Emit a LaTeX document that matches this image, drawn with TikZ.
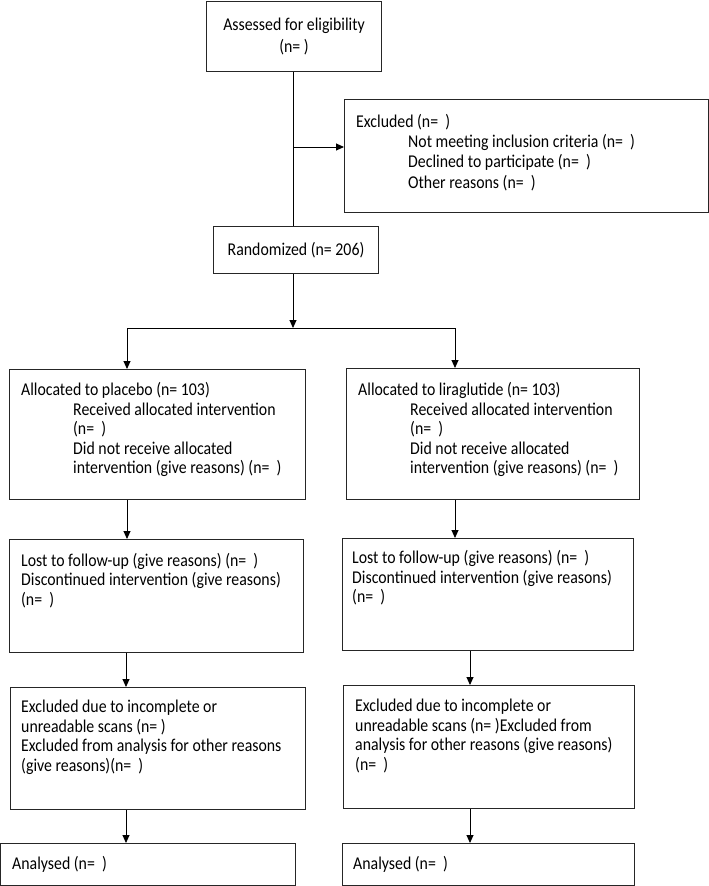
\documentclass[tikz,border=0pt]{standalone}
\usepackage{fontspec}
\setmainfont{Carlito}[FakeStretch=0.88]
\usetikzlibrary{arrows.meta}
\tikzset{
  box/.style={draw=black!85, line width=1.1pt, inner sep=0pt, anchor=north west},
  txt/.style={inner sep=0pt, align=left, anchor=west, font=\fontsize{18}{19.5}\selectfont},
  arr/.style={draw=black, line width=0.9pt, -{Triangle[length=8pt,width=7pt]}},
  ln/.style={draw=black, line width=0.9pt}
}
\newcommand{\ind}{\hspace*{52pt}}
\begin{document}
\begin{tikzpicture}[x=1pt,y=-1pt]
\useasboundingbox (0,0) rectangle (709,886);
% boxes
\node[box, minimum width=175pt, minimum height=70pt, align=center, font=\fontsize{18}{22}\selectfont] (assess) at (206,1) {Assessed for eligibility\\(n= )};
\node[box, minimum width=364pt, minimum height=113pt] (excl) at (344,99) {};
\node[box, minimum width=165pt, minimum height=47pt, font=\fontsize{18}{19.5}\selectfont] (rand) at (213,226) {Randomized (n= 206)};
\node[box, minimum width=296pt, minimum height=130pt] (plac) at (9,369) {};
\node[box, minimum width=293pt, minimum height=131pt] (lira) at (346,368) {};
\node[box, minimum width=294pt, minimum height=113pt] (lostL) at (9,539) {};
\node[box, minimum width=291pt, minimum height=112pt] (lostR) at (342,538) {};
\node[box, minimum width=295pt, minimum height=122pt] (exclL) at (10,687) {};
\node[box, minimum width=291pt, minimum height=123pt] (exclR) at (343,685) {};
\node[box, minimum width=295pt, minimum height=42pt] (anaL) at (0,843) {};
\node[box, minimum width=292pt, minimum height=42pt] (anaR) at (342,843) {};
% texts
\node[txt, font=\fontsize{18}{20.3}\selectfont] (exclT) at (356,152.5) {Excluded (n=\ \ )\\\ind Not meeting inclusion criteria (n=\ \ )\\\ind Declined to participate (n=\ \ )\\\ind Other reasons (n=\ \ )};
\node[txt] (placT) at (21,429.5) {Allocated to placebo (n= 103)\\\ind Received allocated intervention\\\ind (n=\ \ )\\\ind Did not receive allocated\\\ind intervention (give reasons) (n=\ \ )};
\node[txt] (liraT) at (358,429.5) {Allocated to liraglutide (n= 103)\\\ind Received allocated intervention\\\ind (n=\ \ )\\\ind Did not receive allocated\\\ind intervention (give reasons) (n=\ \ )};
\node[txt] (lostLT) at (21,580.5) {Lost to follow-up (give reasons) (n=\ \ )\\Discontinued intervention (give reasons)\\(n=\ \ )};
\node[txt] (lostRT) at (352,578) {Lost to follow-up (give reasons) (n=\ \ )\\Discontinued intervention (give reasons)\\(n=\ \ )};
\node[txt] (exclLT) at (21,737.5) {Excluded due to incomplete or\\unreadable scans (n= )\\Excluded from analysis for other reasons\\(give reasons)(n=\ \ )};
\node[txt] (exclRT) at (355,736) {Excluded due to incomplete or\\unreadable scans (n= )Excluded from\\analysis for other reasons (give reasons)\\(n=\ \ )};
\node[txt] (anaLT) at (12,864) {Analysed (n=\ \ )};
\node[txt] (anaRT) at (353,864) {Analysed (n=\ \ )};
% connectors
\coordinate (trunk) at (293,147);
\coordinate (split) at (293,328);
\coordinate (bl) at (127,328);
\coordinate (br) at (455,328);
\coordinate (cl) at (126,0);
\coordinate (cr) at (470,0);
\draw[ln] (trunk |- assess.south) -- (trunk |- rand.north);
\draw[arr] (trunk) -- (excl.west |- trunk);
\draw[arr] (split |- rand.south) -- (split);
\draw[ln] (bl) -- (br);
\draw[arr] (bl) -- (bl |- plac.north);
\draw[arr] (br) -- (br |- lira.north);
\draw[arr] (bl |- plac.south) -- (bl |- lostL.north);
\draw[arr] (br |- lira.south) -- (br |- lostR.north);
\draw[arr] (cl |- lostL.south) -- (cl |- exclL.north);
\draw[arr] (cr |- lostR.south) -- (cr |- exclR.north);
\draw[arr] (cl |- exclL.south) -- (cl |- anaL.north);
\draw[arr] (cr |- exclR.south) -- (cr |- anaR.north);
\end{tikzpicture}
\end{document}
